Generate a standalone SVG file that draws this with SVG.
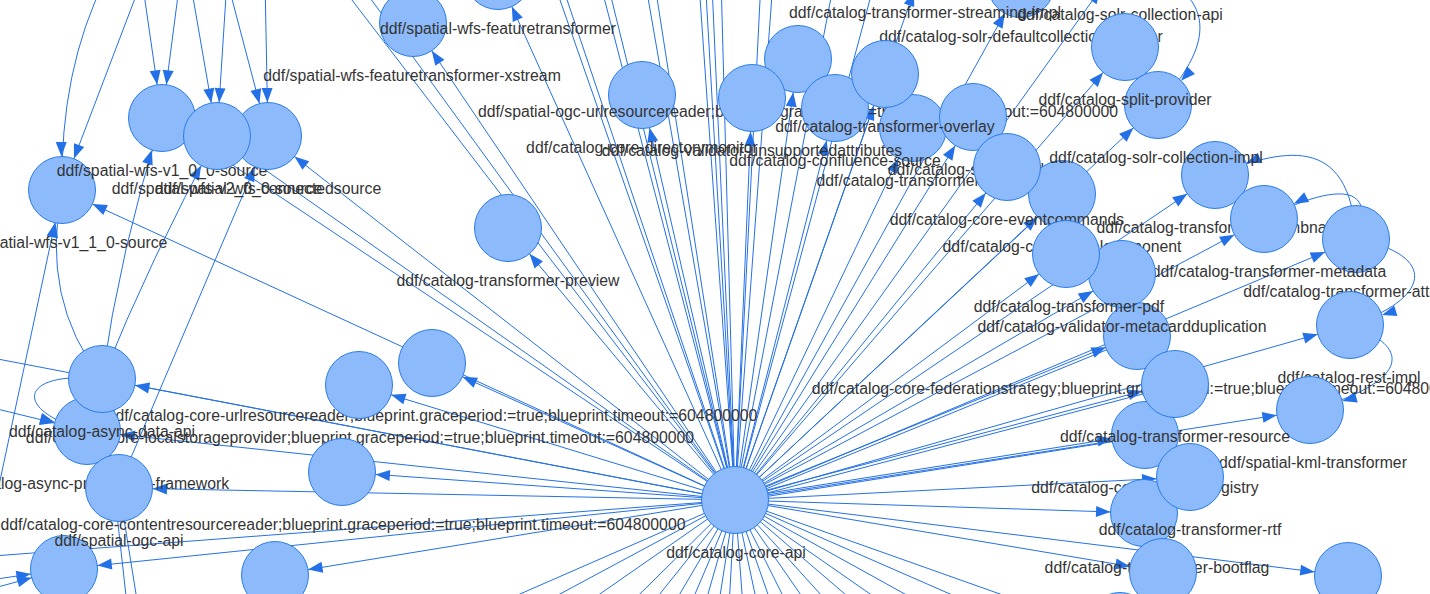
<svg xmlns="http://www.w3.org/2000/svg" width="1430" height="594" viewBox="0 0 1430 594">
<style>
.e{fill:none;stroke:#2470e6;stroke-width:1}
.a{marker-end:url(#ar)}
.n{fill:#8cbafa;stroke:#2b7ce9;stroke-width:1}
.l{font-family:"Liberation Sans",Arial,sans-serif;font-size:15.8px;fill:#343434;text-anchor:middle}
</style>
<defs>
<marker id="ar" markerUnits="userSpaceOnUse" markerWidth="1" markerHeight="1" refX="0" refY="0" orient="auto" overflow="visible">
<path d="M-33.5,0 L-48,-5.5 L-48,5.5 Z" fill="#2470e6"/>
</marker>
</defs>
<rect width="1430" height="594" fill="#ffffff"/>
<g id="connectors">
<path class="e" d="M735,500 L306,-60 M735,500 L328,-60 M735,500 L539,-60 M735,500 L547,-60 M735,500 L589,-60 M735,500 L597,-60 M735,500 L638,-60 M735,500 L648,-60 M735,500 L696,-60 M735,500 L703,-60 M735,500 L710,-60 M735,500 L720,-60 M735,500 L763,-60 M735,500 L776,-60 M735,500 L842,-60 M735,500 L886,-60"/>
<path class="e" d="M735,500 L369,660 M735,500 L437,660 M735,500 L505,660 M735,500 L573,660 M735,500 L607,660 M735,500 L641,660 M735,500 L667,660 M735,500 L689,660 M735,500 L710,660 M735,500 L726,660 M735,500 L747,660 M735,500 L769,660 M735,500 L791,660 M735,500 L815,660 M735,500 L846,660 M735,500 L880,660 M735,500 L922,660 M735,500 L965,660 M735,500 L1024,660 M735,500 L1101,660 M735,500 L1186,660"/>
<path class="e" d="M735,500 L-60,348 M735,500 L-60,560 M735,500 L217,136"/>
<path class="e a" d="M735,500 L925,-40"/>
<path class="e a" d="M735,500 L1120,-38"/>
<path class="e a" d="M735,500 L1021,-16"/>
<path class="e a" d="M735,500 L498,-24"/>
<path class="e a" d="M735,500 L413,23"/>
<path class="e a" d="M735,500 L1125,47"/>
<path class="e a" d="M735,500 L798,59"/>
<path class="e a" d="M735,500 L885,74"/>
<path class="e a" d="M735,500 L642,95"/>
<path class="e a" d="M735,500 L752,98"/>
<path class="e a" d="M735,500 L1158,105"/>
<path class="e a" d="M735,500 L835,108"/>
<path class="e a" d="M735,500 L973,117"/>
<path class="e a" d="M735,500 L913,128"/>
<path class="e a" d="M735,500 L1007,167"/>
<path class="e a" d="M735,500 L1215,175"/>
<path class="e a" d="M735,500 L62,190"/>
<path class="e a" d="M735,500 L1062,194"/>
<path class="e a" d="M735,500 L1264,219"/>
<path class="e a" d="M735,500 L508,228"/>
<path class="e a" d="M735,500 L1356,239"/>
<path class="e a" d="M735,500 L1066,254"/>
<path class="e a" d="M735,500 L1122,274"/>
<path class="e a" d="M735,500 L1350,325"/>
<path class="e a" d="M735,498.5 L1137,334.5"/>
<path class="e" d="M735,501.5 L1137,337.5"/>
<path class="e a" d="M735,500 L432,363"/>
<path class="e a" d="M735,500 L102,379"/>
<path class="e a" d="M735,498.5 L1175,382.5"/>
<path class="e" d="M735,501.5 L1175,385.5"/>
<path class="e a" d="M735,500 L359,385"/>
<path class="e a" d="M735,500 L1310,410"/>
<path class="e a" d="M735,500 L87,431"/>
<path class="e a" d="M735,498.5 L1145,433.5"/>
<path class="e" d="M735,501.5 L1145,436.5"/>
<path class="e a" d="M735,500 L342,472"/>
<path class="e a" d="M735,500 L1190,477"/>
<path class="e a" d="M735,500 L119,488"/>
<path class="e a" d="M735,500 L1144,513"/>
<path class="e a" d="M735,500 L64,569"/>
<path class="e a" d="M735,500 L1163,572"/>
<path class="e a" d="M735,500 L275,575"/>
<path class="e a" d="M735,500 L1348,576"/>
<path class="e a" d="M735,500 L268,136"/>
<path class="e a" d="M735,500 L162,118"/>
<path class="e a" d="M102,379 Q40,300 62,190"/>
<path class="e a" d="M-34,640 L62,190"/>
<path class="e a" d="M105,-20 Q60,70 62,190"/>
<path class="e a" d="M142,-20 L62,190"/>
<path class="e a" d="M142,-20 L162,118"/>
<path class="e a" d="M180,-20 L162,118"/>
<path class="e a" d="M190,-20 L217,136"/>
<path class="e a" d="M227,-20 L217,136"/>
<path class="e a" d="M227,-20 L268,136"/>
<path class="e a" d="M265,-20 L268,136"/>
<path class="e a" d="M102,379 Q120,250 162,118"/>
<path class="e a" d="M102,379 Q150,260 217,136"/>
<path class="e a" d="M118,488 L268,136"/>
<path class="e a" d="M102,379 C20,370 10,410 87,431"/>
<path class="e a" d="M-60,395 L87,431"/>
<path class="e a" d="M-50,586 L64,569"/>
<path class="e a" d="M-50,600 L64,569"/>
<path class="e" d="M132,650 L102,379 M145,650 L119,488"/>
<path class="e a" d="M1120,-38 C1230,-10 1210,50 1158,105"/>
<path class="e a" d="M1356,239 C1350,130 1280,150 1215,175"/>
<path class="e a" d="M1356,239 C1380,180 1330,185 1264,219"/>
<path class="e a" d="M1356,239 C1440,255 1430,300 1350,325"/>
<path class="e a" d="M1350,325 C1420,350 1400,385 1310,410"/>
</g>
<g id="n3"><circle class="n" cx="1021" cy="-16" r="33.5"/><text class="l" x="1021" y="42">ddf/catalog-solr-defaultcollectionprovider</text></g>
<g id="n1"><circle class="n" cx="925" cy="-40" r="33.5"/><text class="l" x="925" y="18">ddf/catalog-transformer-streaming-impl</text></g>
<g id="n2"><circle class="n" cx="1120" cy="-38" r="33.5"/><text class="l" x="1120" y="20">ddf/catalog-solr-collection-api</text></g>
<g id="n5"><circle class="n" cx="413" cy="23" r="33.5"/><text class="l" x="412" y="81">ddf/spatial-wfs-featuretransformer-xstream</text></g>
<g id="n4"><circle class="n" cx="498" cy="-24" r="33.5"/><text class="l" x="498" y="34">ddf/spatial-wfs-featuretransformer</text></g>
<g id="n6"><circle class="n" cx="62" cy="190" r="33.5"/><text class="l" x="62" y="248">ddf/spatial-wfs-v1_1_0-source</text></g>
<g id="n7"><circle class="n" cx="162" cy="118" r="33.5"/><text class="l" x="162" y="176">ddf/spatial-wfs-v1_0_0-source</text></g>
<g id="n8"><circle class="n" cx="268" cy="136" r="33.5"/><text class="l" x="268" y="194">ddf/spatial-wfs-connectedsource</text></g>
<g id="n9"><circle class="n" cx="217" cy="136" r="33.5"/><text class="l" x="217" y="194">ddf/spatial-wfs-v2_0_0-source</text></g>
<g id="n10"><circle class="n" cx="642" cy="95" r="33.5"/><text class="l" x="642" y="153">ddf/catalog-core-directorymonitor</text></g>
<g id="n11"><circle class="n" cx="798" cy="59" r="33.5"/><text class="l" x="798" y="117">ddf/spatial-ogc-urlresourcereader;blueprint.graceperiod:=true;blueprint.timeout:=604800000</text></g>
<g id="n13"><circle class="n" cx="913" cy="128" r="33.5"/><text class="l" x="913" y="186">ddf/catalog-transformer-xml</text></g>
<g id="n12"><circle class="n" cx="752" cy="98" r="33.5"/><text class="l" x="752" y="156">ddf/catalog-validator-unsupportedattributes</text></g>
<g id="n14"><circle class="n" cx="835" cy="108" r="33.5"/><text class="l" x="835" y="166">ddf/catalog-confluence-source</text></g>
<g id="n16"><circle class="n" cx="973" cy="117" r="33.5"/><text class="l" x="973" y="175">ddf/catalog-solr-provider</text></g>
<g id="n15"><circle class="n" cx="885" cy="74" r="33.5"/><text class="l" x="885" y="132">ddf/catalog-transformer-overlay</text></g>
<g id="n18"><circle class="n" cx="1062" cy="194" r="33.5"/><text class="l" x="1062" y="252">ddf/catalog-core-camelcomponent</text></g>
<g id="n17"><circle class="n" cx="1007" cy="167" r="33.5"/><text class="l" x="1007" y="225">ddf/catalog-core-eventcommands</text></g>
<g id="n21"><circle class="n" cx="1215" cy="175" r="33.5"/><text class="l" x="1215" y="233">ddf/catalog-transformer-thumbnail</text></g>
<g id="n19"><circle class="n" cx="1158" cy="105" r="33.5"/><text class="l" x="1156" y="163">ddf/catalog-solr-collection-impl</text></g>
<g id="n20"><circle class="n" cx="1125" cy="47" r="33.5"/><text class="l" x="1125" y="105">ddf/catalog-split-provider</text></g>
<g id="n22"><circle class="n" cx="1356" cy="239" r="33.5"/><text class="l" x="1360" y="297">ddf/catalog-transformer-attributes</text></g>
<g id="n23"><circle class="n" cx="1264" cy="219" r="33.5"/><text class="l" x="1269" y="277">ddf/catalog-transformer-metadata</text></g>
<g id="n24"><circle class="n" cx="1137" cy="336" r="33.5"/><text class="l" x="1138" y="394">ddf/catalog-core-federationstrategy;blueprint.graceperiod:=true;blueprint.timeout:=604800000</text></g>
<g id="n25"><circle class="n" cx="1122" cy="274" r="33.5"/><text class="l" x="1122" y="332">ddf/catalog-validator-metacardduplication</text></g>
<g id="n26"><circle class="n" cx="1066" cy="254" r="33.5"/><text class="l" x="1069" y="312">ddf/catalog-transformer-pdf</text></g>
<g id="n27"><circle class="n" cx="1350" cy="325" r="33.5"/><text class="l" x="1349" y="383">ddf/catalog-rest-impl</text></g>
<g id="n28"><circle class="n" cx="1310" cy="410" r="33.5"/><text class="l" x="1313" y="468">ddf/spatial-kml-transformer</text></g>
<g id="n29"><circle class="n" cx="1145" cy="435" r="33.5"/><text class="l" x="1145" y="493">ddf/catalog-core-attributeregistry</text></g>
<g id="n30"><circle class="n" cx="1175" cy="384" r="33.5"/><text class="l" x="1175" y="442">ddf/catalog-transformer-resource</text></g>
<g id="n31"><circle class="n" cx="1144" cy="513" r="33.5"/><text class="l" x="1157" y="573">ddf/catalog-transformer-bootflag</text></g>
<g id="n32"><circle class="n" cx="1190" cy="477" r="33.5"/><text class="l" x="1190" y="535">ddf/catalog-transformer-rtf</text></g>
<g id="n33"><circle class="n" cx="1163" cy="572" r="33.5"/></g>
<g id="n34"><circle class="n" cx="1348" cy="576" r="33.5"/></g>
<g id="n35"><circle class="n" cx="1120" cy="626" r="33.5"/></g>
<g id="n36"><circle class="n" cx="508" cy="228" r="33.5"/><text class="l" x="508" y="286">ddf/catalog-transformer-preview</text></g>
<g id="n37"><circle class="n" cx="432" cy="363" r="33.5"/><text class="l" x="432" y="421">ddf/catalog-core-urlresourcereader;blueprint.graceperiod:=true;blueprint.timeout:=604800000</text></g>
<g id="n38"><circle class="n" cx="359" cy="385" r="33.5"/><text class="l" x="360" y="443">ddf/catalog-core-localstorageprovider;blueprint.graceperiod:=true;blueprint.timeout:=604800000</text></g>
<g id="n43"><circle class="n" cx="64" cy="569" r="33.5"/></g>
<g id="n39"><circle class="n" cx="87" cy="431" r="33.5"/><text class="l" x="87" y="489">ddf/catalog-async-processing-framework</text></g>
<g id="n40"><circle class="n" cx="102" cy="379" r="33.5"/><text class="l" x="102" y="437">ddf/catalog-async-data-api</text></g>
<g id="n41"><circle class="n" cx="119" cy="488" r="33.5"/><text class="l" x="119" y="546">ddf/spatial-ogc-api</text></g>
<g id="n42"><circle class="n" cx="342" cy="472" r="33.5"/><text class="l" x="343" y="530">ddf/catalog-core-contentresourcereader;blueprint.graceperiod:=true;blueprint.timeout:=604800000</text></g>
<g id="n44"><circle class="n" cx="275" cy="575" r="33.5"/></g>
<g id="n45"><circle class="n" cx="735" cy="500" r="33.5"/><text class="l" x="736" y="558">ddf/catalog-core-api</text></g>
</svg>
